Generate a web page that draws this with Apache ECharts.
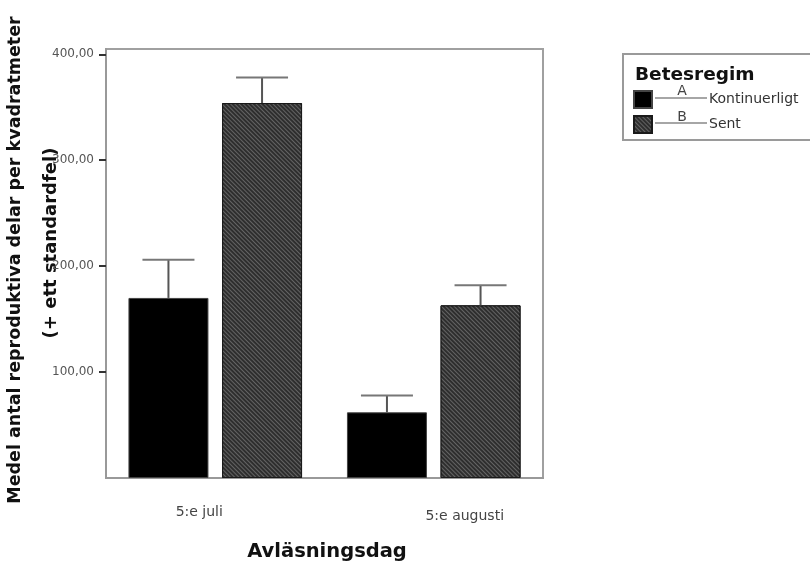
<!DOCTYPE html>
<html>
<head>
<meta charset="utf-8">
<script src="https://cdn.jsdelivr.net/npm/echarts@6/dist/echarts.min.js"></script>
<style>html,body{margin:0;padding:0;background:#fff;}#c{width:810px;height:567px;}</style>
</head>
<body>
<div id="c"></div>
<script>
// ---- data ----
const categories = ['5:e juli', '5:e augusti'];
const seriesNames = ['Kontinuerligt', 'Sent'];
const seriesLetters = ['A', 'B'];
const kontMean = [170, 62];
const kontSE = [36, 16];
const sentMean = [354, 163];
const sentSE = [24, 19];
const yTicks = [100, 200, 300, 400];
const yMax = 405;

// ---- style constants ----
const BAR_W = 80;
const GAP_PCT = 17;
const OFFSET = (BAR_W + BAR_W * GAP_PCT / 100) / 2;
const FONT = 'DejaVu Sans';

const errData = [];
kontMean.forEach((m, i) => errData.push([i, 0, m, kontSE[i]]));
sentMean.forEach((m, i) => errData.push([i, 1, m, sentSE[i]]));

const chart = echarts.init(document.getElementById('c'), null, {renderer: 'canvas'});
chart.setOption({
  backgroundColor: '#fff',
  animation: false,
  title: {
    text: 'Betesregim', left: 635, top: 66, padding: 0,
    textStyle: {fontFamily: FONT, fontSize: 18.5, fontWeight: 'bold', color: '#111'}
  },
  legend: {
    orient: 'vertical', left: 623, top: 54,
    padding: [36, 60, 6, 10],
    itemWidth: 18, itemHeight: 17, itemGap: 6,
    borderColor: '#9a9a9a', borderWidth: 2,
    icon: 'rect',
    data: seriesNames,
    formatter: n => '{pad| }' + n,
    textStyle: {fontFamily: FONT, fontSize: 14, color: '#333', rich: {pad: {width: 52}}}
  },
  grid: {left: 106, top: 49, width: 437, bottom: 83, show: true, borderColor: '#a0a0a0', borderWidth: 2},
  xAxis: {
    type: 'category', data: categories,
    axisLine: {lineStyle: {color: '#999', width: 2}},
    axisTick: {alignWithLabel: true, length: 5, lineStyle: {color: '#333', width: 1.5}},
    axisLabel: {
      margin: 27, fontFamily: FONT, fontSize: 14, color: '#444',
      formatter: (v, i) => i === 0 ? '{a|' + v + '}' : '{b|' + v + '}',
      rich: {a: {padding: [0, 32, 0, 0]}, b: {padding: [4, 0, 0, 62]}}
    },
    name: 'Avläsningsdag', nameLocation: 'middle', nameGap: 64,
    nameTextStyle: {fontFamily: FONT, fontSize: 19.5, fontWeight: 'bold', color: '#111', padding: [0, 0, 0, 5]}
  },
  yAxis: {
    type: 'value', min: 0, max: yMax,
    splitLine: {show: false},
    axisLine: {show: true, lineStyle: {color: '#999', width: 2}},
    axisTick: {show: true, customValues: yTicks, length: 7, lineStyle: {color: '#333', width: 2}},
    axisLabel: {
      customValues: yTicks, margin: 12,
      formatter: v => v.toFixed(2).replace('.', ','),
      fontFamily: FONT, fontSize: 12, color: '#555'
    }
  },
  graphic: [
    {type: 'text', x: 15, y: 260, rotation: Math.PI / 2,
     style: {text: 'Medel antal reproduktiva delar per kvadratmeter', font: 'bold 17.5px "DejaVu Sans"', fill: '#111', textAlign: 'center', textVerticalAlign: 'middle'}},
    {type: 'text', x: 51, y: 243, rotation: Math.PI / 2,
     style: {text: '(+ ett standardfel)', font: 'bold 18px "DejaVu Sans"', fill: '#111', textAlign: 'center', textVerticalAlign: 'middle'}},
    {type: 'line', shape: {x1: 655, y1: 98, x2: 707, y2: 98}, style: {stroke: '#888', lineWidth: 1.5}},
    {type: 'line', shape: {x1: 655, y1: 123, x2: 707, y2: 123}, style: {stroke: '#888', lineWidth: 1.5}},
    {type: 'text', x: 682, y: 91, style: {text: seriesLetters[0], font: '14px "DejaVu Sans"', fill: '#444', textAlign: 'center', textVerticalAlign: 'middle'}},
    {type: 'text', x: 682, y: 117, style: {text: seriesLetters[1], font: '14px "DejaVu Sans"', fill: '#444', textAlign: 'center', textVerticalAlign: 'middle'}}
  ],
  series: [
    {type: 'bar', name: seriesNames[0], data: kontMean, barWidth: BAR_W, barGap: GAP_PCT + '%',
     itemStyle: {color: '#000', borderColor: '#444', borderWidth: 1}},
    {type: 'bar', name: seriesNames[1], data: sentMean, barWidth: BAR_W, barGap: GAP_PCT + '%',
     itemStyle: {color: '#2e2e2e', borderColor: '#1a1a1a', borderWidth: 1,
       decal: {symbol: 'rect', symbolSize: 1, color: 'rgba(105,105,105,0.9)', dashArrayX: [1, 0], dashArrayY: [1, 2], rotation: Math.PI / 4}}},
    {type: 'custom', name: 'err', data: errData, z: 5,
     encode: {x: 0, y: 2},
     renderItem: function (params, api) {
       const cat = api.value(0), s = api.value(1), m = api.value(2), se = api.value(3);
       const base = api.coord([cat, m]);
       const top = api.coord([cat, m + se]);
       const x = base[0] + (s === 0 ? -OFFSET : OFFSET);
       return {type: 'group', children: [
         {type: 'line', shape: {x1: x, y1: base[1], x2: x, y2: top[1]}, style: {stroke: '#555', lineWidth: 2}},
         {type: 'line', shape: {x1: x - 26, y1: top[1], x2: x + 26, y2: top[1]}, style: {stroke: '#777', lineWidth: 2}}
       ]};
     }}
  ]
});
</script>
</body>
</html>
